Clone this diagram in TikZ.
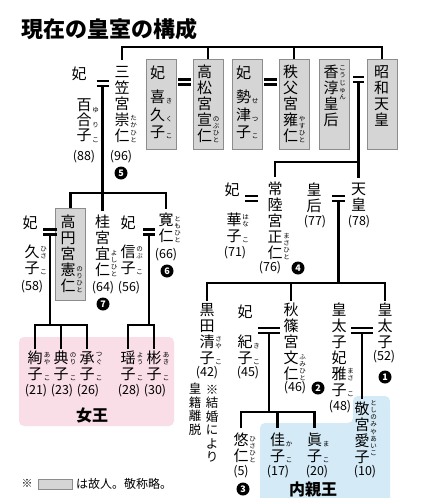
\documentclass[tikz,border=0pt]{standalone}
\usepackage{fontspec}
\newfontfamily\jp{Noto Sans CJK JP}
\definecolor{rosa}{HTML}{F9DDE7}
\definecolor{celeste}{HTML}{D4EAF6}
\definecolor{gris}{HTML}{D5D5D5}
\definecolor{borde}{HTML}{8C8C8C}
\tikzset{
  linea/.style={line width=2.4pt},
  nombre/.style={font=\jp\fontsize{15}{16}\selectfont, align=center, inner sep=0pt, anchor=north},
  nota/.style={font=\jp\fontsize{12.5}{13.5}\selectfont, align=center, inner sep=0pt, anchor=north},
  ruby/.style={font=\jp\fontsize{6.5}{7.2}\selectfont, align=center, inner sep=0pt, anchor=south west},
  rubyw/.style={ruby, font=\jp\fontsize{6.5}{16}\selectfont},
  edad/.style={font=\jp\fontsize{12.5}{13}\selectfont, inner sep=0pt},
  fallecido/.style={draw=borde, fill=gris, line width=0.8pt, minimum width=30pt, minimum height=90pt, inner sep=0pt},
  orden/.style={circle, fill=black, text=white, font=\jp\bfseries\fontsize{9}{9}\selectfont, inner sep=0pt, minimum size=13pt},
  rotulo/.style={font=\jp\bfseries\fontsize{16}{16}\selectfont, inner sep=0pt},
  pics/boda/.style={code={\draw[line width=2.4pt] (-#1,0) -- (#1,0) (-#1,-5) -- (#1,-5);}},
}
\begin{document}
\begin{tikzpicture}[x=1pt, y=-1pt]
  \useasboundingbox (0,0) rectangle (444,498);
  \fill[white] (0,0) rectangle (444,498);

  % Fondos
  \fill[rosa, rounded corners=5pt] (19,337) rectangle (174,426);
  \fill[celeste, rounded corners=5pt] (353,396) -- (390,396) -- (390,515) -- (260,515) -- (260,423) -- (353,423) -- cycle;

  \node[font=\jp\bfseries\fontsize{22}{22}\selectfont, anchor=west, inner sep=0pt] (titulo) at (21,29) {現在の皇室の構成};

  % Generacion de Showa
  \node[fallecido] (kikuko) at (161,104) {};
  \node[nombre] (kikuko-n) at (157.5,66) {妃\\[8pt]喜\\[1.5pt]久\\[1.5pt]子};
  \node[ruby, font=\jp\fontsize{6.5}{17.5}\selectfont] (kikuko-r) at ([xshift=0.5pt]kikuko-n.south east) {き\\く\\こ};
  \node[fallecido] (takamatsu) at (208,104) {};
  \node[nombre] (takamatsu-n) at (204.5,65) {高\\松\\宮\\宣\\仁};
  \node[ruby] (takamatsu-r) at ([xshift=0.5pt]takamatsu-n.south east) {の\\ぶ\\ひ\\と};
  \node[fallecido] (setsuko) at (247,104) {};
  \node[nombre] (setsuko-n) at (243.5,66) {妃\\[8pt]勢\\[1.5pt]津\\[1.5pt]子};
  \node[ruby, font=\jp\fontsize{6.5}{17.5}\selectfont] (setsuko-r) at ([xshift=0.5pt]setsuko-n.south east) {せ\\つ\\こ};
  \node[fallecido] (chichibu) at (294,104) {};
  \node[nombre] (chichibu-n) at (290.5,65) {秩\\父\\宮\\雍\\仁};
  \node[ruby] (chichibu-r) at ([xshift=0.5pt]chichibu-n.south east) {や\\す\\ひ\\と};
  \node[fallecido] (kojun) at (334,104) {};
  \node[nombre] (kojun-n) at (331,65) {香\\淳\\皇\\后};
  \node[ruby, anchor=north west] (kojun-r) at ([xshift=0.5pt,yshift=-1pt]kojun-n.north east) {こ\\う\\じ\\ゅ\\ん};
  \node[fallecido] (showa) at (382,104) {};
  \node[nombre] (showa-n) at (381.5,65) {昭\\和\\天\\皇};
  \pic at (184.5,84.5) {boda=6.5};
  \pic at (270.5,84.5) {boda=6.5};
  \coordinate (showa-boda) at (358.5,82);
  \pic at (showa-boda) {boda=5.5};

  % Mikasa
  \node[nombre] (mikasa) at (122,66) {三\\笠\\宮\\崇\\仁};
  \node[ruby] (mikasa-r) at ([xshift=0.5pt]mikasa.south east) {た\\か\\ひ\\と};
  \node[nombre] (mikasa-hi) at (79,67) {妃};
  \node[nombre, font=\jp\fontsize{15}{15}\selectfont] (yuriko) at (84,99) {百\\合\\子};
  \node[rubyw, font=\jp\fontsize{6.5}{15}\selectfont] (yuriko-r) at ([xshift=0.5pt]yuriko.south east) {ゆ\\り\\こ};
  \node[edad] (yuriko-e) at (84,157) {(88)};
  \node[edad] (mikasa-e) at (121,157) {(96)};
  \node[orden] (mikasa-o) at (121,173) {5};
  \coordinate (mikasa-boda) at (102.5,86);
  \pic at (mikasa-boda) {boda=6};

  \coordinate (gen0) at (251,47);
  \draw[linea] ([yshift=6pt]mikasa.north) |- (gen0) -| (showa.north);
  \draw[linea] (gen0 -| takamatsu.north) -- (takamatsu.north);
  \draw[linea] (gen0 -| chichibu.north) -- (chichibu.north);

  % Hijos de Mikasa
  \node[fallecido, minimum height=92pt] (takamado) at (70.5,254) {};
  \node[nombre] (takamado-n) at (68,215) {高\\円\\宮\\憲\\仁};
  \node[ruby] (takamado-r) at ([xshift=0.5pt]takamado-n.south east) {の\\り\\ひ\\と};
  \node[nombre] (katsura) at (102.5,215) {桂\\宮\\宜\\仁};
  \node[ruby] (katsura-r) at ([xshift=0.5pt]katsura.south east) {よ\\し\\ひ\\と};
  \node[nombre] (tomohito) at (166,213) {寛\\仁};
  \node[ruby] (tomohito-r) at ([xshift=0.5pt]tomohito.south east) {と\\も\\ひ\\と};
  \node[nombre] (takamado-hi) at (30,216) {妃};
  \node[nombre] (hisako) at (32,245) {久\\子};
  \node[ruby] (hisako-r) at ([xshift=0.5pt]hisako.south east) {ひ\\さ\\[8.8pt]こ};
  \node[nombre] (tomohito-hi) at (128,216) {妃};
  \node[nombre] (nobuko) at (128,245) {信\\子};
  \node[ruby] (nobuko-r) at ([xshift=0.5pt]nobuko.south east) {の\\ぶ\\[8.8pt]こ};
  \node[edad] (hisako-e) at (32,287) {(58)};
  \node[edad] (katsura-e) at (103,288) {(64)};
  \node[edad] (nobuko-e) at (129,288) {(56)};
  \node[edad] (tomohito-e) at (166,255) {(66)};
  \node[orden] (katsura-o) at (103,304) {7};
  \node[orden] (tomohito-o) at (167,271) {6};

  \coordinate (mikasa-hijos) at (102.5,193);
  \draw[linea] (mikasa-boda) -- ([yshift=4pt]katsura.north);
  \draw[linea] (takamado.north) |- (mikasa-hijos) -| ([yshift=4pt]tomohito.north);

  % Nietas de Mikasa
  \coordinate (takamado-boda) at (50,234.5);
  \pic at (takamado-boda) {boda=7};
  \coordinate (takamado-hijos) at (50,325);
  \coordinate (tomohito-boda) at (149,234.5);
  \pic at (tomohito-boda) {boda=6};
  \coordinate (tomohito-hijos) at (149,325);
  \node[nombre] (ayako) at (35,351) {絢\\子};
  \node[ruby] (ayako-r) at ([xshift=1pt]ayako.south east) {あ\\や\\[8.8pt]こ};
  \node[nombre] (noriko) at (61,351) {典\\子};
  \node[ruby] (noriko-r) at ([xshift=1pt]noriko.south east) {の\\り\\[8.8pt]こ};
  \node[nombre] (tsuguko) at (87,351) {承\\子};
  \node[ruby] (tsuguko-r) at ([xshift=1pt]tsuguko.south east) {つ\\ぐ\\[8.8pt]こ};
  \node[nombre] (yoko) at (128,351) {瑶\\子};
  \node[ruby] (yoko-r) at ([xshift=1pt]yoko.south east) {よ\\う\\[8.8pt]こ};
  \node[nombre] (akiko) at (154,351) {彬\\子};
  \node[ruby] (akiko-r) at ([xshift=1pt]akiko.south east) {あ\\き\\[8.8pt]こ};
  \node[edad] (ayako-e) at (36,391) {(21)};
  \node[edad] (noriko-e) at (62,391) {(23)};
  \node[edad] (tsuguko-e) at (88,391) {(26)};
  \node[edad] (yoko-e) at (129,391) {(28)};
  \node[edad] (akiko-e) at (155,391) {(30)};
  \node[rotulo] (joo) at (92,415) {女王};
  \draw[linea] (takamado-boda) -- (takamado-hijos);
  \draw[linea] ([yshift=2pt]ayako.north) |- (takamado-hijos) -| ([yshift=2pt]tsuguko.north);
  \draw[linea] (takamado-hijos -| noriko) -- ([yshift=2pt]noriko.north);
  \draw[linea] (tomohito-boda) -- (tomohito-hijos);
  \draw[linea] ([yshift=2pt]yoko.north) |- (tomohito-hijos) -| ([yshift=2pt]akiko.north);

  % Hijos de Showa
  \coordinate (showa-hijos) at (358.5,162);
  \node[nombre] (tenno) at (358.5,183) {天\\皇};
  \node[nombre] (kogo) at (314,183) {皇\\后};
  \node[nombre] (hitachi) at (275,182) {常\\陸\\宮\\正\\仁};
  \node[ruby] (hitachi-r) at ([xshift=0.5pt]hitachi.south east) {ま\\さ\\ひ\\と};
  \node[nombre] (hitachi-hi) at (232,183) {妃};
  \node[nombre] (hanako) at (234,213) {華\\子};
  \node[ruby] (hanako-r) at ([xshift=0.5pt]hanako.south east) {は\\な\\[8.8pt]こ};
  \node[edad] (hanako-e) at (235,253) {(71)};
  \node[edad] (hitachi-e) at (270,268) {(76)};
  \node[orden] (hitachi-o) at (298,268) {4};
  \node[edad] (kogo-e) at (315,222) {(77)};
  \node[edad] (tenno-e) at (359,222) {(78)};
  \pic at (251.5,201) {boda=6.5};
  \coordinate (tenno-boda) at (338.5,201);
  \pic at (tenno-boda) {boda=6.5};
  \draw[linea] (showa-boda) -- ([yshift=5pt]tenno.north);
  \draw[linea] (showa-hijos) -| ([yshift=5pt]hitachi.north);

  % Hijos del Emperador
  \node[nombre] (kuroda) at (207,303) {黒\\田\\清\\子};
  \node[ruby] (kuroda-r) at ([xshift=0.5pt]kuroda.south east) {さ\\や\\[8.8pt]こ};
  \node[edad] (kuroda-e) at (207,373) {(42)};
  \node[nota] (kuroda-nota) at (212,385) {※\\結\\婚\\に\\よ\\り};
  \node[nota] (kuroda-nota2) at (195,383) {皇\\籍\\離\\脱};
  \node[nombre] (akishino-hi) at (245,305) {妃};
  \node[nombre] (kiko) at (245,335) {紀\\子};
  \node[rubyw] (kiko-r) at ([xshift=0.5pt]kiko.south east) {き\\こ};
  \node[edad] (kiko-e) at (248,373) {(45)};
  \node[nombre] (akishino) at (291,303) {秋\\篠\\宮\\文\\仁};
  \node[ruby] (akishino-r) at ([xshift=0.5pt]akishino.south east) {ふ\\み\\ひ\\と};
  \node[edad] (akishino-e) at (295,388) {(46)};
  \node[orden] (akishino-o) at (318,388) {2};
  \node[nombre] (masako) at (339,303) {皇\\太\\子\\妃\\雅\\子};
  \node[ruby] (masako-r) at ([xshift=0.5pt]masako.south east) {ま\\さ\\[8.8pt]こ};
  \node[edad] (masako-e) at (340,407) {(48)};
  \node[nombre] (kotaishi) at (385,303) {皇\\太\\子};
  \node[edad] (kotaishi-e) at (384,357) {(52)};
  \node[orden] (kotaishi-o) at (385,377) {1};
  \coordinate (tenno-hijos) at (338.5,283);
  \coordinate (akishino-boda) at (269,333);
  \pic at (akishino-boda) {boda=11};
  \coordinate (kotaishi-boda) at (362,333);
  \pic at (kotaishi-boda) {boda=11};
  \draw[linea] (tenno-boda) -- (tenno-hijos);
  \draw[linea] ([yshift=2pt]kuroda.north) |- (tenno-hijos) -| ([yshift=2pt]kotaishi.north);
  \draw[linea] (tenno-hijos -| akishino) -- ([yshift=2pt]akishino.north);

  % Nietos
  \node[nombre] (aiko) at (362,402) {敬\\宮\\愛\\子};
  \node[ruby, anchor=north west] (aiko-r) at ([xshift=0.5pt,yshift=2pt]aiko.north east) {と\\し\\の\\み\\や\\あ\\い\\こ};
  \node[edad] (aiko-e) at (365,472) {(10)};
  \node[nombre] (hisahito) at (241,433) {悠\\仁};
  \node[ruby] (hisahito-r) at ([xshift=0.5pt]hisahito.south east) {ひ\\さ\\ひ\\と};
  \node[edad] (hisahito-e) at (241,472) {(5)};
  \node[orden] (hisahito-o) at (243,489) {3};
  \node[nombre] (kako) at (277.5,433) {佳\\子};
  \node[rubyw] (kako-r) at ([xshift=0.5pt]kako.south east) {か\\こ};
  \node[edad] (kako-e) at (278,472) {(17)};
  \node[nombre] (mako) at (314.5,433) {眞\\子};
  \node[rubyw] (mako-r) at ([xshift=0.5pt]mako.south east) {ま\\こ};
  \node[edad] (mako-e) at (317,472) {(20)};
  \node[rotulo] (naishinno) at (313,489) {内親王};
  \coordinate (akishino-hijos) at (269,412);
  \draw[linea] (kotaishi-boda) -- ([yshift=3pt]aiko.north);
  \draw[linea] (akishino-boda) -- (akishino-hijos);
  \draw[linea] ([yshift=5pt]hisahito.north) |- (akishino-hijos) -| ([yshift=5pt]mako.north);
  \draw[linea] (akishino-hijos -| kako) -- ([yshift=5pt]kako.north);

  % Leyenda
  \node[font=\jp\fontsize{11}{12}\selectfont, inner sep=0pt] (leyenda) at (27,483.5) {※};
  \node[fallecido, minimum width=34pt, minimum height=10pt] (leyenda-caja) at (55,484) {};
  \node[font=\jp\fontsize{12}{12}\selectfont, anchor=west, inner sep=0pt] (leyenda-texto) at (76,483.5) {は故人。敬称略。};
\end{tikzpicture}
\end{document}
